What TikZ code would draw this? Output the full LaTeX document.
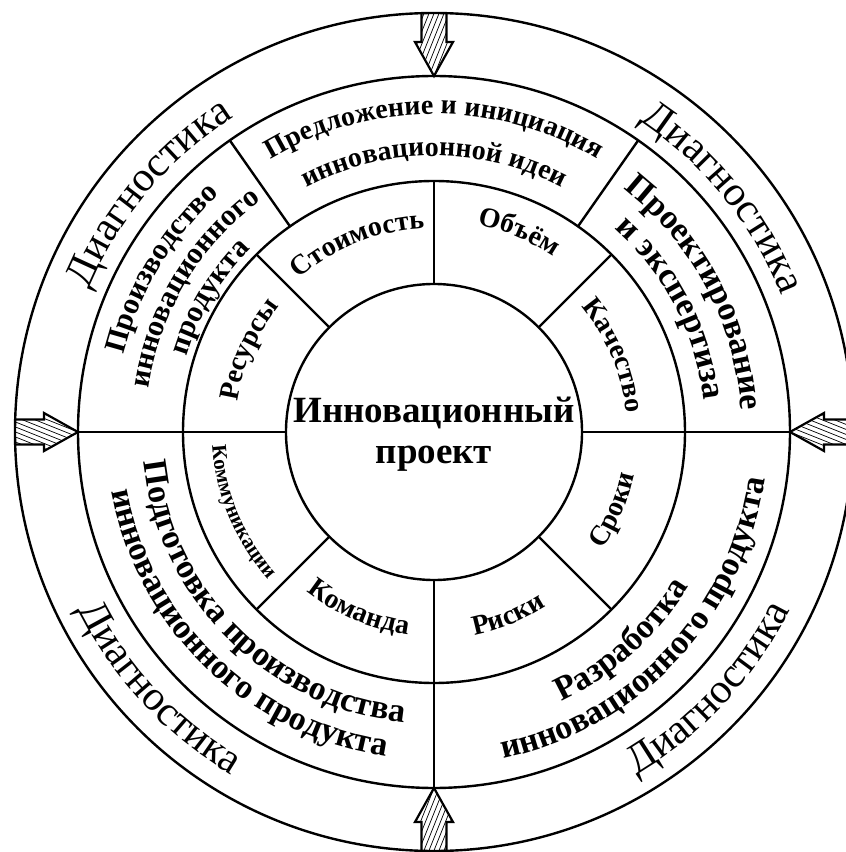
\documentclass[tikz,border=0pt]{standalone}
\usepackage{fontspec}
\setmainfont{Liberation Serif}
\usetikzlibrary{decorations.text}

\newcommand\fntin{\fontsize{28}{32}\selectfont\bfseries}
\newcommand\fntcomm{\fontsize{21}{24}\selectfont\bfseries}
\newcommand\fnttop{\fontsize{28}{32}\selectfont\bfseries}
\newcommand\fntmid{\fontsize{34}{38}\selectfont\bfseries}
\newcommand\fntul{\fontsize{30}{34}\selectfont\bfseries}
\newcommand\fntdiag{\fontsize{42}{46}\selectfont}

% text along an arc, letters' tops pointing outward (upper half)
\newcommand\arcup[4]{%
  \path[decorate,decoration={text along path,text align=center,text={|#3|#4}}]
    ({#2+80}:#1pt) arc[start angle={#2+80}, end angle={#2-80}, radius=#1pt];}
% text along an arc, letters' tops pointing inward (lower half)
\newcommand\arcdn[4]{%
  \path[decorate,decoration={text along path,text align=center,text={|#3|#4}}]
    ({#2-80}:#1pt) arc[start angle={#2-80}, end angle={#2+80}, radius=#1pt];}

\tikzset{
  ring/.style={line width=2.4pt},
  divider/.style={line width=2.4pt},
  hatchline/.style={line width=0.7pt},
  arrowline/.style={line width=2.2pt,line join=miter},
  inarrow/.pic={
    \begin{scope}
      \clip (-12.5,63) -- (-12.5,34) -- (-19,34) -- (0,0) -- (19,34) -- (12.5,34) -- (12.5,63) -- cycle;
      \foreach \k in {-60,-55,...,30} \draw[hatchline] (\k,0) -- ++(30,75);
    \end{scope}
    \draw[arrowline] (-12.5,63) -- (-12.5,34) -- (-19,34) -- (0,0) -- (19,34) -- (12.5,34) -- (12.5,63);
  }
}

\begin{document}
\begin{tikzpicture}[x=1pt,y=1pt]
\useasboundingbox (-434,-420) rectangle (412,432);
\clip (-434,-420) rectangle (412,432);
\fill[white] (-434,-420) rectangle (412,432);

% arrows
\pic[rotate=0] at (0,356) {inarrow};
\pic[rotate=90] at (-356,0) {inarrow};
\pic[rotate=180] at (0,-356) {inarrow};
\pic[rotate=-90] at (356,0) {inarrow};

% circles
\draw[ring] (0,0) circle[radius=148pt];
\draw[ring] (0,0) circle[radius=251pt];
\draw[ring] (0,0) circle[radius=356pt];
\draw[ring] (0,0) circle[radius=419pt];

% dividers
\foreach \a in {45,90,135,225,315} \draw[divider] (\a:148pt) -- (\a:251pt);
\foreach \a in {0,180,270} \draw[divider] (\a:148pt) -- (\a:356pt);
\foreach \a in {55,125} \draw[divider] (\a:251pt) -- (\a:356pt);

% centre
\node[font=\fontsize{37}{41}\selectfont\bfseries, align=center] (c) at (0,-2) {Инновационный\\проект};

% inner ring
\arcup{204}{112}{\fntin}{Стоимость}
\arcup{212}{67}{\fntin}{Объём}
\arcup{193}{23}{\fntin}{Качество}
\arcup{199}{156}{\fntin}{Ресурсы}
\arcdn{205}{-23.5}{\fntin}{Сроки}
\arcdn{207}{-68}{\fntin}{Риски}
\arcdn{204}{-113}{\fntin}{Команда}
\arcdn{222}{-157.5}{\fntcomm}{Коммуникации}

% middle ring
\arcup{318}{90}{\fnttop}{Предложение и инициация}
\arcup{276}{90}{\fnttop}{инновационной идеи}
\arcup{308}{28}{\fntmid}{Проектирование}
\arcup{272}{27.5}{\fntmid}{и экспертиза}
\arcup{320}{149}{\fntul}{Производство}
\arcup{289}{149}{\fntul}{инновационного}
\arcup{259}{149}{\fntul}{продукта}
\arcdn{292}{225}{\fntmid}{Подготовка производства}
\arcdn{328}{226}{\fntmid}{инновационного продукта}
\arcdn{298}{-48}{\fntmid}{Разработка}
\arcdn{334}{-43}{\fntmid}{инновационного продукта}

% outer ring
\arcup{373}{140}{\fntdiag}{Диагностика}
\arcup{373}{39}{\fntdiag}{Диагностика}
\arcdn{398}{223}{\fntdiag}{Диагностика}
\arcdn{398}{-43}{\fntdiag}{Диагностика}
\end{tikzpicture}
\end{document}
